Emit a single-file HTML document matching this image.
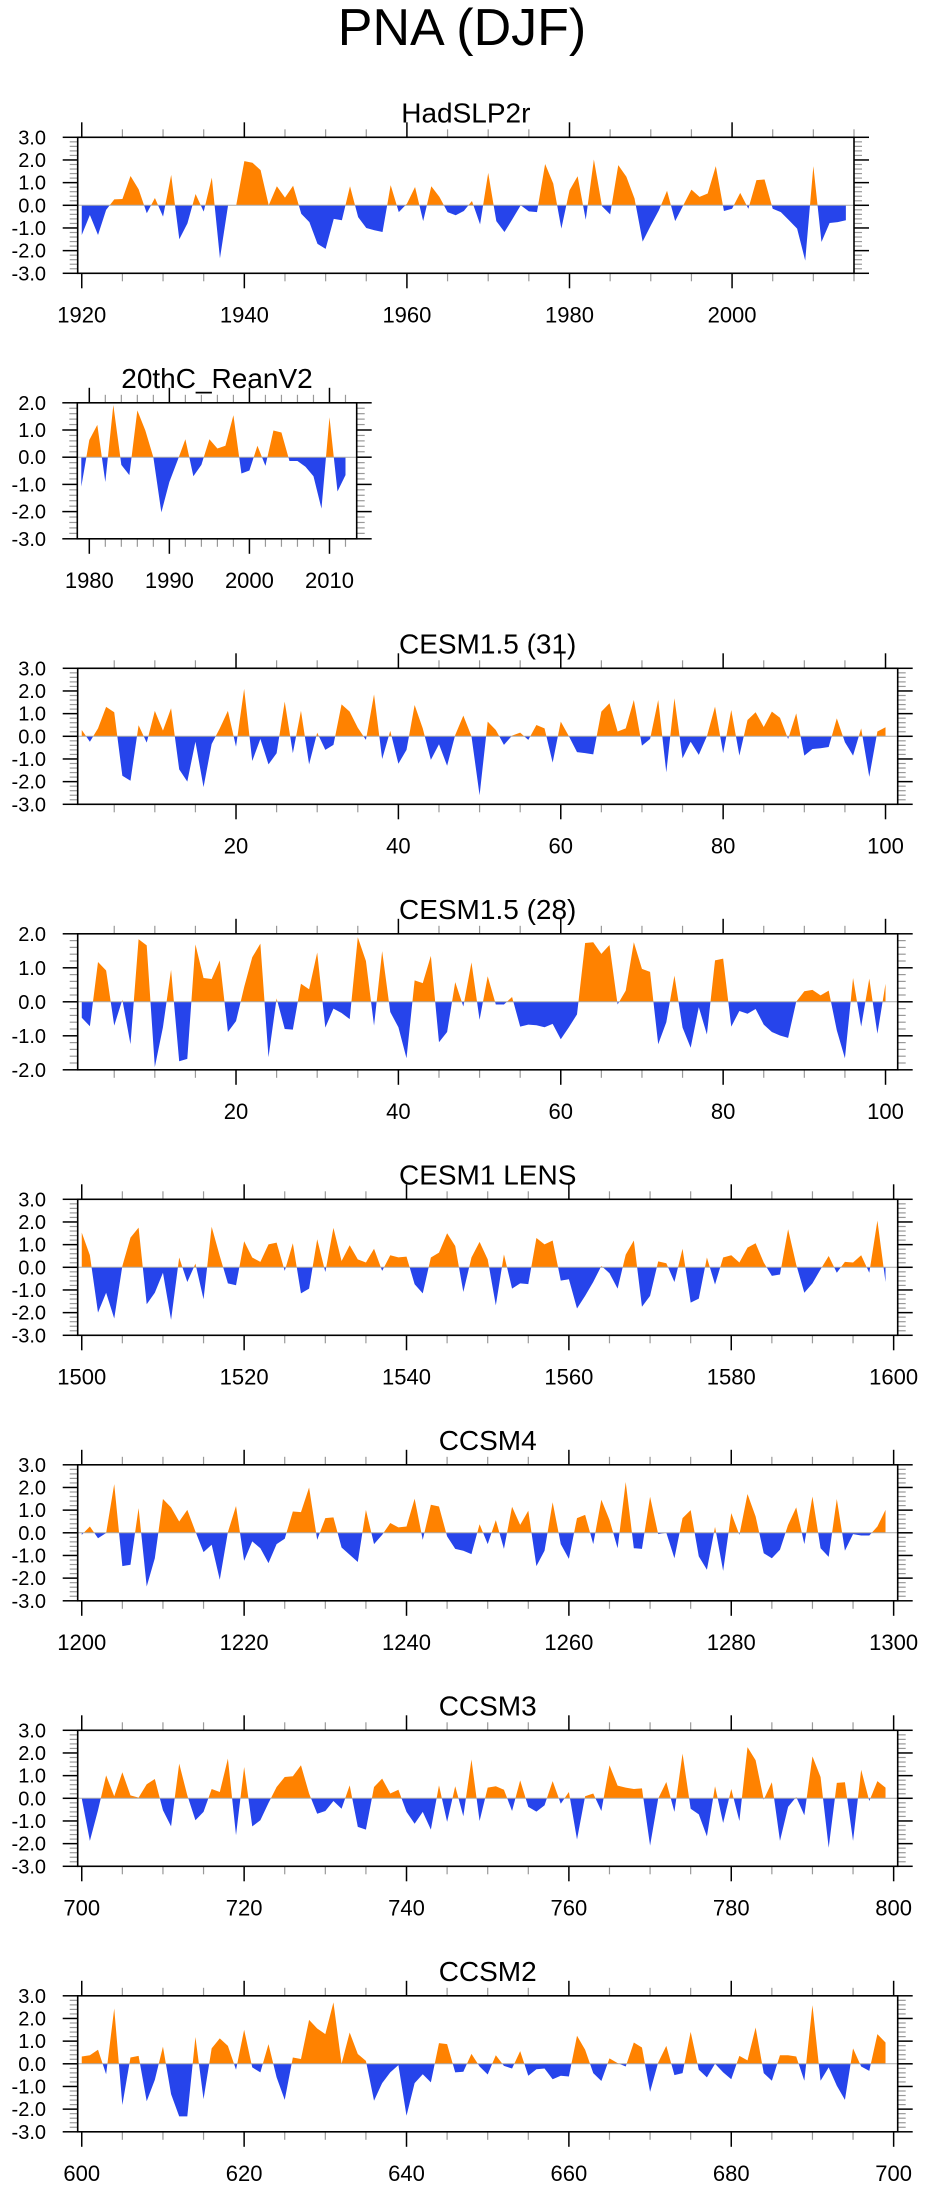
<!DOCTYPE html>
<html><head><meta charset="utf-8"><title>PNA (DJF)</title>
<style>html,body{margin:0;padding:0;background:#fff}svg{display:block}text{font-family:"Liberation Sans",Arial,sans-serif;fill:#000}</style>
</head><body>
<svg id="chart" xmlns="http://www.w3.org/2000/svg" width="925" height="2190" viewBox="0 0 925 2190">
<rect x="0" y="0" width="925" height="2190" fill="#fff"/>
<text x="462" y="45" font-size="52" text-anchor="middle">PNA (DJF)</text>
</svg>
<script>
// ---- data ----
const hadValues = [-1.31,-0.43,-1.31,-0.2,0.26,0.28,1.29,0.7,-0.35,0.32,-0.5,1.34,-1.5,-0.8,0.5,-0.28,1.22,-2.34,0,0,
1.95,1.88,1.55,0,0.84,0.34,0.86,-0.37,-0.74,-1.7,-1.92,-0.6,-0.66,0.84,-0.52,-1.0,-1.1,-1.18,0.89,-0.3,
0.07,0.81,-0.7,0.84,0.37,-0.3,-0.44,-0.25,0.19,-0.84,1.43,-0.7,-1.18,-0.6,0,-0.27,-0.3,1.82,0.96,-1.03,
0.66,1.28,-0.64,2.02,-0.04,-0.4,1.77,1.26,0.3,-1.6,-0.89,-0.22,0.64,-0.7,0,0.69,0.37,0.52,1.73,-0.25,
-0.15,0.55,-0.15,1.11,1.14,-0.15,-0.3,-0.66,-1.03,-2.44,1.73,-1.62,-0.78,-0.74,-0.66];
const reanValues = [-1.08,0.63,1.19,-0.91,1.92,-0.28,-0.66,1.72,0.98,0,-2.03,-0.91,-0.14,0.66,-0.7,-0.28,0.66,0.32,0.42,1.54,
-0.6,-0.49,0.42,-0.32,0.98,0.91,-0.14,-0.14,-0.35,-0.7,-1.89,1.47,-1.26,-0.66];
const cesm31Values = [0.28,-0.24,0.35,1.3,1.06,-1.74,-1.96,0.49,-0.28,1.12,0.25,1.24,-1.46,-2.0,-0.24,-2.24,-0.34,0.35,1.12,-0.46,
2.09,-1.09,-0.12,-1.24,-0.75,1.53,-0.75,1.13,-1.24,0.16,-0.6,-0.38,1.41,1.09,0.38,-0.16,1.85,-1.0,0.24,-1.21,
-0.6,1.38,0.35,-1.04,-0.35,-1.3,0.06,0.91,0,-2.6,0.65,0.28,-0.38,0.03,0.16,-0.16,0.5,0.35,-1.16,0.65,
0,-0.7,-0.74,-0.8,1.09,1.46,0.21,0.35,1.6,-0.41,-0.12,1.6,-1.59,1.68,-0.97,-0.24,-0.82,0,1.31,-0.75,
1.16,-0.85,0.72,1.06,0.41,1.09,0.82,-0.12,1.01,-0.85,-0.56,-0.53,-0.47,0.79,-0.26,-0.85,0.35,-1.79,0.21,0.4];
const cesm28Values = [-0.47,-0.72,1.17,0.92,-0.7,0.06,-1.25,1.84,1.66,-1.92,-0.75,0.94,-1.75,-1.68,1.69,0.7,0.67,1.22,-0.89,-0.57,
0.43,1.31,1.71,-1.63,0.1,-0.8,-0.82,0.53,0.37,1.45,-0.76,-0.2,-0.33,-0.51,1.9,1.2,-0.7,1.49,-0.3,-0.75,
-1.66,0.63,0.55,1.35,-1.19,-0.89,0.58,-0.14,1.16,-0.53,0.75,-0.08,-0.08,0.14,-0.73,-0.67,-0.69,-0.75,-0.65,-1.1,
-0.75,-0.37,1.73,1.75,1.41,1.67,-0.08,0.33,1.75,0.97,0.88,-1.25,-0.6,0.77,-0.76,-1.35,-0.16,-0.96,1.22,1.27,
-0.73,-0.27,-0.35,-0.21,-0.67,-0.89,-0.99,-1.06,0,0.31,0.35,0.19,0.33,-0.84,-1.66,0.7,-0.73,0.68,-0.94,0.53];
const lensValues = [1.53,0.53,-2.0,-1.12,-2.26,0.06,1.31,1.75,-1.63,-1.12,-0.24,-2.32,0.43,-0.65,0.16,-1.41,1.79,0.5,-0.71,-0.79,
1.15,0.43,0.24,1.01,1.09,-0.16,1.06,-1.15,-0.94,1.24,-0.21,1.74,0.28,0.97,0.35,0.21,0.82,-0.16,0.53,0.44,
0.47,-0.75,-1.15,0.43,0.65,1.5,0.94,-1.09,0.43,1.12,0.35,-1.68,0.57,-0.94,-0.71,-0.74,1.29,1.01,1.18,-0.59,
-0.53,-1.82,-1.26,-0.65,0.06,-0.26,-0.94,0.56,1.18,-1.74,-1.26,0.26,0.18,-0.65,0.82,-1.56,-1.38,0.43,-0.76,0.43,
0.53,0.21,0.87,1.06,0.21,-0.38,-0.32,1.68,0.12,-1.12,-0.71,-0.09,0.5,-0.24,0.24,0.21,0.53,-0.24,2.06,-0.65];
const ccsm4Values = [-0.09,0.28,-0.24,-0.01,2.15,-1.47,-1.41,1.09,-2.37,-1.12,1.49,1.12,0.5,1.01,0.06,-0.85,-0.53,-2.07,0.03,1.18,
-1.24,-0.38,-0.68,-1.34,-0.5,-0.26,0.94,0.91,2.0,-0.31,0.65,0.68,-0.65,-0.97,-1.29,1.01,-0.5,-0.09,0.43,0.24,
0.28,1.5,-0.31,1.24,1.16,-0.16,-0.71,-0.79,-0.94,0.38,-0.5,0.56,-0.71,1.15,0.35,0.97,-1.47,-0.79,1.35,-0.5,
-1.15,0.65,0.79,-0.5,1.46,0.57,-0.68,2.24,-0.68,-0.71,1.59,-0.06,0,-1.12,0.65,1.0,-1.04,-1.63,0.26,-1.68,
0.87,-0.09,1.71,0.72,-0.9,-1.12,-0.75,0.35,1.12,-0.5,1.6,-0.68,-1.06,1.49,-0.79,-0.06,-0.12,-0.12,0.28,1.01];
const ccsm3Values = [-0.01,-1.88,-0.53,1.01,0.09,1.15,0.13,0.03,0.62,0.85,-0.53,-1.24,1.53,0.13,-0.97,-0.6,0.41,0.28,1.75,-1.63,
1.38,-1.24,-0.97,-0.21,0.5,0.94,0.97,1.46,0.21,-0.68,-0.56,-0.12,-0.46,0.57,-1.26,-1.38,0.5,0.87,0.21,0.38,
-0.6,-1.12,-0.6,-1.38,0.57,-1.04,0.53,-0.79,1.71,-1.0,0.47,0.53,0.38,-0.56,0.79,-0.38,-0.59,-0.31,0.76,-0.24,
0.28,-1.82,0.09,0.21,-0.56,1.46,0.56,0.47,0.41,0.44,-2.09,-0.01,0.72,-0.6,1.97,-0.46,-0.71,-1.68,0.53,-1.09,
0.41,-1.0,2.26,1.68,-0.06,0.71,-1.88,-0.38,0.06,-0.75,1.85,0.94,-2.18,0.68,0.71,-1.88,1.26,-0.12,0.76,0.47];
const ccsm2Values = [0.32,0.38,0.62,-0.46,2.44,-1.82,0.28,0.35,-1.65,-0.71,0.76,-1.34,-2.32,-2.32,1.18,-1.56,0.68,1.12,0.79,-0.26,
1.5,-0.16,-0.38,0.87,-0.6,-1.59,0.28,0.21,1.94,1.56,1.31,2.71,0,1.38,0.43,0.13,-1.63,-0.85,-0.38,-0.06,
-2.29,-0.85,-0.46,-0.82,0.91,0.87,-0.38,-0.35,0.44,-0.12,-0.47,0.38,-0.09,-0.21,0.56,-0.53,-0.24,-0.21,-0.68,-0.53,
-0.56,1.24,0.62,-0.41,-0.76,0.24,0.03,-0.12,0.94,0.72,-1.24,0.06,0.79,-0.5,-0.41,1.41,-0.26,-0.6,0,-0.38,
-0.68,0.35,0.15,1.6,-0.41,-0.75,0.38,0.38,0.32,-0.75,2.59,-0.75,-0.16,-0.97,-1.59,0.68,-0.12,-0.31,1.31,0.94];
const panelTitles = ["HadSLP2r","20thC_ReanV2","CESM1.5 (31)","CESM1.5 (28)","CESM1 LENS","CCSM4","CCSM3","CCSM2"];
const panelStarts = [1920,1979,1,1,1500,1200,700,600];
const xMajorTicks = [[1920,1940,1960,1980,2000],[1980,1990,2000,2010],[20,40,60,80,100],[20,40,60,80,100],
  [1500,1520,1540,1560,1580,1600],[1200,1220,1240,1260,1280,1300],[700,720,740,760,780,800],[600,620,640,660,680,700]];
const yTickLabels3 = ["3.0","2.0","1.0","0.0","-1.0","-2.0","-3.0"];
const yTickLabelsR = ["2.0","1.0","0.0","-1.0","-2.0","-3.0"];
const yTickLabels2 = ["2.0","1.0","0.0","-1.0","-2.0"];

const panelValues = [hadValues,reanValues,cesm31Values,cesm28Values,lensValues,ccsm4Values,ccsm3Values,ccsm2Values];
const slugs = ["hadslp2r","20thc-reanv2","cesm15-31","cesm15-28","cesm1-lens","ccsm4","ccsm3","ccsm2"];
const svg = document.getElementById('chart');
const NS = 'http://www.w3.org/2000/svg';
const ORANGE = 'rgb(255,130,0)', BLUE = 'rgb(38,68,235)';

function mk(tag, attrs, parent){
  const e = document.createElementNS(NS, tag);
  for (const k in attrs) e.setAttribute(k, attrs[k]);
  (parent||svg).appendChild(e);
  return e;
}

for (let p = 0; p < 8; p++) {
  const vals = panelValues[p];
  const start = panelStarts[p];
  const top = 137.3 + 265.5 * p, h = 136, bottom = top + h;
  let left = 77.7, right, x0, x1, minorStep, ymax, ymin, labels;
  if (p === 0) { right = 854; x0 = 1919.5; x1 = 2015; minorStep = 5; }
  else if (p === 1) { left = 77.3; right = 356.7; x0 = 1978.5; x1 = 2013.4; minorStep = 2; }
  else { right = 897.7; x0 = start - 0.5; x1 = start + 100.5; minorStep = 5; }
  if (p === 1) { ymax = 2; ymin = -3; labels = yTickLabelsR; }
  else if (p === 3) { ymax = 2; ymin = -2; labels = yTickLabels2; }
  else { ymax = 3; ymin = -3; labels = yTickLabels3; }
  const X = v => left + (v - x0) / (x1 - x0) * (right - left);
  const Y = v => top + (ymax - v) / (ymax - ymin) * h;
  const slug = slugs[p];

  const g = mk('g', {});
  
  

  const title = mk('text', {x: (left + right) / 2, y: top - 15, 'font-size': 28, 'text-anchor': 'middle'}, g);
  
  
  title.textContent = panelTitles[p];

  const y0 = Y(0);
  let d = 'M' + X(start).toFixed(2) + ',' + y0.toFixed(2);
  for (let i = 0; i < vals.length; i++) d += ' L' + X(start + i).toFixed(2) + ',' + Y(vals[i]).toFixed(2);
  d += ' L' + X(start + vals.length - 1).toFixed(2) + ',' + y0.toFixed(2) + ' Z';
  const defs = mk('defs', {}, g);
  const cpA = mk('clipPath', {id: 'ca' + p}, defs);
  mk('rect', {x: left, y: top, width: right - left, height: y0 - top}, cpA);
  const cpB = mk('clipPath', {id: 'cb' + p}, defs);
  mk('rect', {x: left, y: y0, width: right - left, height: bottom - y0}, cpB);
  const pos = mk('path', {d: d, fill: ORANGE, 'clip-path': 'url(#ca' + p + ')'}, g);
  
  
  const neg = mk('path', {d: d, fill: BLUE, 'clip-path': 'url(#cb' + p + ')'}, g);
  
  
  const zl = mk('line', {x1: left, x2: right, y1: y0, y2: y0, stroke: '#aaa', 'stroke-width': 1}, g);
  
  

  const nMinor = Math.round((ymax - ymin) / 0.2);
  for (let k = 0; k <= nMinor; k++) {
    const v = ymax - k * 0.2, yy = Y(v);
    const major = k % 5 === 0;
    const len = major ? 15 : 8, col = major ? '#000' : '#999', sw = major ? 1.5 : 1.2;
    mk('line', {x1: left - len, x2: left, y1: yy, y2: yy, stroke: col, 'stroke-width': sw}, g);
    mk('line', {x1: right, x2: right + len, y1: yy, y2: yy, stroke: col, 'stroke-width': sw}, g);
  }
  for (let k = 0; k < labels.length; k++) {
    const t = mk('text', {x: 46, y: Y(ymax - k) + 7, 'font-size': 20, 'text-anchor': 'end'}, g);
    
    
    t.textContent = labels[k];
  }
  const firstMinor = Math.ceil(x0 / minorStep) * minorStep;
  const majors = xMajorTicks[p];
  for (let v = firstMinor; v <= x1; v += minorStep) {
    const major = majors.indexOf(v) >= 0;
    const xx = X(v), len = major ? 15 : 8, col = major ? '#000' : '#999', sw = major ? 1.5 : 1.2;
    mk('line', {x1: xx, x2: xx, y1: top - len, y2: top, stroke: col, 'stroke-width': sw}, g);
    mk('line', {x1: xx, x2: xx, y1: bottom, y2: bottom + len, stroke: col, 'stroke-width': sw}, g);
  }
  for (const v of majors) {
    const t = mk('text', {x: X(v), y: bottom + 49, 'font-size': 22, 'text-anchor': 'middle'}, g);
    
    
    t.textContent = String(v);
  }
  const frame = mk('rect', {x: left, y: top, width: right - left, height: h, fill: 'none', stroke: '#000', 'stroke-width': 1.6}, g);
  
  
}
</script>
</body></html>
